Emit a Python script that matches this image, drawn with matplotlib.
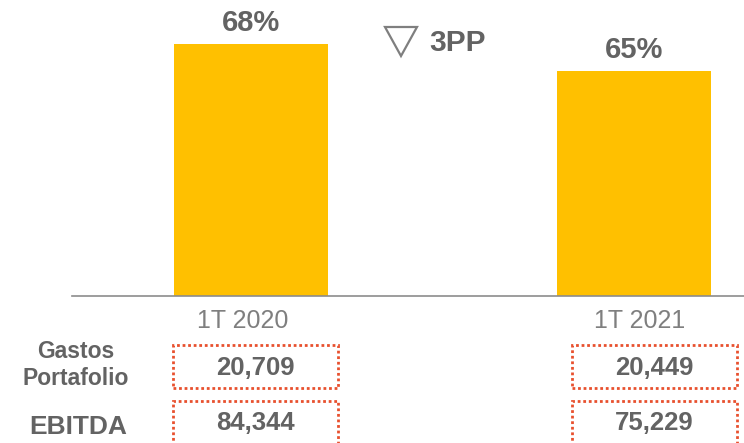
import matplotlib
matplotlib.use("Agg")
import matplotlib.pyplot as plt
import matplotlib.transforms as mtransforms
from matplotlib.patches import Rectangle, Polygon

# datos
periodos = ["1T 2020", "1T 2021"]
margen = [68, 65]
etiquetas_margen = ["68%", "65%"]
variacion = "3PP"
gastos_portafolio = ["20,709", "20,449"]
ebitda = ["84,344", "75,229"]

plt.rcParams['font.family'] = ['Liberation Sans', 'DejaVu Sans']

W, H = 744, 443
fig = plt.figure(figsize=(W / 100, H / 100), dpi=100)

def fx(px):
    return px / W

def fy(py):
    return 1 - py / H

gris = '#636363'
gris_claro = '#7f7f7f'
amarillo = '#FFC000'
rojo = '#E8502E'

ax = fig.add_axes([fx(72), fy(296), fx(744 - 72), 296 / H])
x = [0, 1]
ax.bar(x, margen, width=0.402, color=amarillo)
ax.set_ylim(40, 40 + 296 / 9)
ax.set_xlim(-0.467, 1.287)
for s in ['top', 'right', 'left']:
    ax.spines[s].set_visible(False)
ax.spines['bottom'].set_color('#8c8c8c')
ax.spines['bottom'].set_linewidth(1.2)
ax.set_yticks([])
ax.set_xticks(x)
ax.set_xticklabels(periodos, fontsize=18, color=gris_claro)
ax.tick_params(axis='x', length=0, pad=9)
# las etiquetas del eje no quedan justo centradas bajo las barras
for lab, dx in zip(ax.get_xticklabels(), [-8, 6]):
    lab.set_transform(lab.get_transform() +
                      mtransforms.ScaledTranslation(dx / 100, 0, fig.dpi_scale_trans))

for xi, v, lab in zip(x, margen, etiquetas_margen):
    ax.annotate(lab, (xi, v), xytext=(0, 15), textcoords='offset points',
                ha='center', va='center', fontsize=21, fontweight='bold',
                color=gris, annotation_clip=False)

# variacion
tri = Polygon([(fx(385), fy(27)), (fx(417), fy(27)), (fx(401), fy(56))],
              closed=True, fill=False, edgecolor=gris_claro, linewidth=1.6,
              transform=fig.transFigure)
fig.add_artist(tri)
fig.text(fx(429), fy(43), variacion, fontsize=21.5, fontweight='bold',
         color=gris, ha='left', va='center')

# tabla inferior
fig.text(fx(76), fy(365), "Gastos\nPortafolio", fontsize=16.5, fontweight='bold',
         color=gris, ha='center', va='center', linespacing=1.2)
fig.text(fx(78), fy(427), "EBITDA", fontsize=19, fontweight='bold',
         color=gris, ha='center', va='center')

cajas = [(173, 338), (572, 737)]
filas = [(gastos_portafolio, 345, 388, 368), (ebitda, 401, 470, 423)]
for valores, top, bottom, yc in filas:
    for (l, r), val in zip(cajas, valores):
        rect = Rectangle((fx(l), fy(bottom)), fx(r - l), (bottom - top) / H,
                         transform=fig.transFigure, fill=False, edgecolor=rojo,
                         linewidth=2, linestyle=(0, (1, 1)), clip_on=False)
        fig.add_artist(rect)
        fig.text(fx((l + r) / 2), fy(yc), val, fontsize=18.5, fontweight='bold',
                 color=gris, ha='center', va='center')

fig.savefig("out.png", dpi=100)
